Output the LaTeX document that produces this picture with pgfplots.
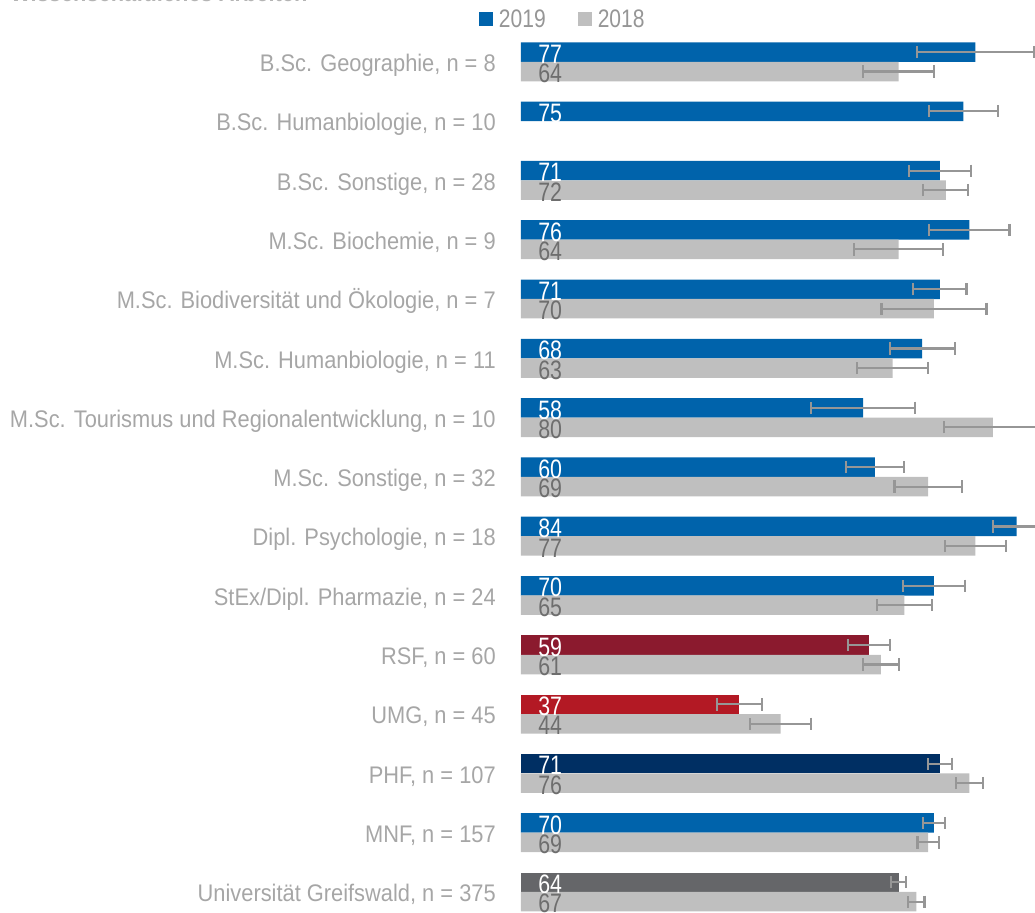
\documentclass[border=0pt]{standalone}
\usepackage{pgfplots}
\pgfplotsset{compat=1.18}
\usepackage{fontspec}
\setmainfont{Liberation Sans}
\newfontfamily\catfont{Liberation Sans}[FakeStretch=0.91]
\newfontfamily\valfont{Liberation Sans}[FakeStretch=0.80]
\newfontfamily\legfont{Liberation Sans}[FakeStretch=0.83]
\definecolor{c19}{RGB}{0,99,171}
\definecolor{c18}{RGB}{191,191,191}
\definecolor{cRSF}{RGB}{139,26,46}
\definecolor{cUMG}{RGB}{179,25,36}
\definecolor{cPHF}{RGB}{0,47,99}
\definecolor{cUNI}{RGB}{101,102,105}
\definecolor{cerr}{RGB}{150,150,150}
\definecolor{ccat}{RGB}{166,166,166}
\definecolor{cleg}{RGB}{150,150,150}
\definecolor{cval18}{RGB}{110,110,110}
\definecolor{ctitle}{RGB}{180,180,180}
\pgfplotsset{
  errstyle/.style={error bars/.cd, x dir=both, x explicit,
    error bar style={draw=cerr, line width=1.6pt, solid},
    error mark options={draw=cerr, line width=1.6pt, mark size=4.6pt, rotate=90}},
  mybar/.style={xbar, bar width=14.625pt, bar shift=0pt, draw=none, fill=#1},
  vallab/.style={draw=none, mark=none, forget plot, nodes near coords, point meta=explicit symbolic,
    every node near coord/.append style={anchor=west, inner sep=0pt, xshift=12.75pt, yshift=-1.5pt,
      text=#1, font=\valfont\fontsize{20pt}{24pt}\selectfont}},
}
\begin{document}
\begin{tikzpicture}
\useasboundingbox (0,0) rectangle (776.25pt,684.75pt);
\node[anchor=base west, inner sep=0pt, text=ctitle, font=\catfont\bfseries\fontsize{18pt}{22pt}\selectfont] at (7.5pt,683.25pt) {Wissenschaftliches Arbeiten};
\begin{axis}[
  at={(390.75pt,-6.4875pt)}, anchor=south west,
  scale only axis, width=385.5pt, height=667.125pt,
  xmin=0, xmax=87.12, ymin=-0.5, ymax=14.5,
  axis line style={draw=none}, tick style={draw=none},
  major tick length=0pt,
  xtick=\empty, ytick={0,...,14},
  yticklabels={{Universität Greifswald, n = 375},{MNF, n = 157},{PHF, n = 107},{UMG, n = 45},{RSF, n = 60},
    {StEx/Dipl. Pharmazie, n = 24},{Dipl. Psychologie, n = 18},{M.Sc. Sonstige, n = 32},
    {M.Sc. Tourismus und Regionalentwicklung, n = 10},{M.Sc. Humanbiologie, n = 11},
    {M.Sc. Biodiversität und Ökologie, n = 7},{M.Sc. Biochemie, n = 9},{B.Sc. Sonstige, n = 28},
    {B.Sc. Humanbiologie, n = 10},{B.Sc. Geographie, n = 8}},
  yticklabel style={anchor=base east, inner sep=0pt, xshift=-18.75pt, yshift=-7.3pt, text=ccat,
    font=\catfont\fontsize{18pt}{22pt}\selectfont},
  legend columns=2,
  legend image code/.code={\fill[#1] (0pt,-5.25pt) rectangle (10.5pt,5.25pt);},
  legend style={draw=none, fill=none, at={(axis description cs:0,1)}, anchor=west,
    xshift=-31.5pt, yshift=9.5pt, inner sep=0pt, outer sep=0pt,
    nodes={inner sep=0pt, text=cleg, font=\legfont\fontsize{19pt}{22pt}\selectfont},
    /tikz/every odd column/.append style={column sep=4.5pt},
    /tikz/every even column/.append style={column sep=24pt}},
]
\addplot[mybar=c19, errstyle] coordinates {
(77,14.164) +- (9.9,0)
(75,13.164) +- (5.85,0)
(71,12.164) +- (5.2,0)
(76,11.164) +- (6.8,0)
(71,10.164) +- (4.5,0)
(68,9.164) +- (5.5,0)
(58,8.164) +- (8.8,0)
(60,7.164) +- (4.9,0)
(84,6.164) +- (4.0,0)
(70,5.164) +- (5.2,0)
(70,1.164) +- (1.8,0)
};
\addlegendentry{2019}
\addplot[mybar=cRSF, forget plot, errstyle] coordinates {(59,4.164) +- (3.6,0)};
\addplot[mybar=cUMG, forget plot, errstyle] coordinates {(37,3.164) +- (3.8,0)};
\addplot[mybar=cPHF, forget plot, errstyle] coordinates {(71,2.164) +- (2.0,0)};
\addplot[mybar=cUNI, forget plot, errstyle] coordinates {(64,0.164) +- (1.3,0)};
\addplot[mybar=c18, errstyle] coordinates {
(64,13.836) +- (6.0,0)
(72,11.836) +- (3.8,0)
(64,10.836) +- (7.5,0)
(70,9.836) +- (8.9,0)
(63,8.836) +- (6.0,0)
(80,7.836) +- (8.3,0)
(69,6.836) +- (5.7,0)
(77,5.836) +- (5.2,0)
(65,4.836) +- (4.7,0)
(61,3.836) +- (3.1,0)
(44,2.836) +- (5.2,0)
(76,1.836) +- (2.3,0)
(69,0.836) +- (1.8,0)
(67,-0.164) +- (1.4,0)
};
\addlegendentry{2018}
\addplot[vallab=white] coordinates {
(0,14.164) [77] (0,13.164) [75] (0,12.164) [71] (0,11.164) [76] (0,10.164) [71]
(0,9.164) [68] (0,8.164) [58] (0,7.164) [60] (0,6.164) [84] (0,5.164) [70]
(0,4.164) [59] (0,3.164) [37] (0,2.164) [71] (0,1.164) [70] (0,0.164) [64]
};
\addplot[vallab=cval18] coordinates {
(0,13.836) [64] (0,11.836) [72] (0,10.836) [64] (0,9.836) [70]
(0,8.836) [63] (0,7.836) [80] (0,6.836) [69] (0,5.836) [77] (0,4.836) [65]
(0,3.836) [61] (0,2.836) [44] (0,1.836) [76] (0,0.836) [69] (0,-0.164) [67]
};
\end{axis}
\end{tikzpicture}
\end{document}
